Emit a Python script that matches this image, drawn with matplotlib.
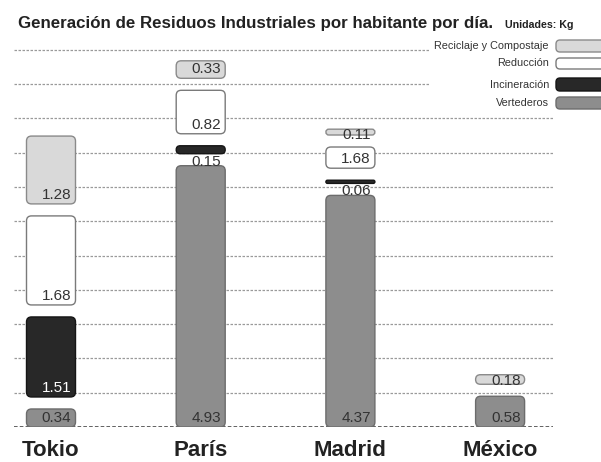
import matplotlib
matplotlib.use("Agg")
import matplotlib.pyplot as plt
from matplotlib.patches import FancyBboxPatch

plt.rcParams['font.family'] = ['Liberation Sans', 'DejaVu Sans']

# ---------------- data ----------------
cities = ["Tokio", "París", "Madrid", "México"]
series_names = ["Reciclaje y Compostaje", "Reducción", "Incineración", "Vertederos"]
# values (kg per inhabitant per day); None = no segment
vertederos = [0.34, 4.93, 4.37, 0.58]
incineracion = [1.51, 0.15, 0.06, None]
reduccion = [1.68, 0.82, 0.40, None]    # Madrid segment drawn short in the source
reciclaje = [1.28, 0.33, 0.11, 0.18]
# printed labels (as written on the chart)
lab_vertederos = ["0.34", "4.93", "4.37", "0.58"]
lab_incineracion = ["1.51", "0.15", "0.06", None]
lab_reduccion = ["1.68", "0.82", "1.68", None]
lab_reciclaje = ["1.28", "0.33", "0.11", "0.18"]
title = "Generación de Residuos Industriales por habitante por día."
units = "Unidades: Kg"

# ---------------- styles ----------------
W, H = 601, 462
PX_X = 149.7   # px per category
PX_Y = 53.0    # px per kg
X0_PX = 51     # px position of first category
AX_L, AX_R, AX_B, AX_T = 14, 555, 427, 40
fill = {"Vertederos": "#8d8d8d", "Incineración": "#282828",
        "Reducción": "#ffffff", "Reciclaje y Compostaje": "#d9d9d9"}
edge = {"Vertederos": "#6c6c6c", "Incineración": "#151515",
        "Reducción": "#7a7a7a", "Reciclaje y Compostaje": "#8a8a8a"}
txtc = {"Vertederos": "#333333", "Incineración": "#ffffff",
        "Reducción": "#333333", "Reciclaje y Compostaje": "#333333"}

fig = plt.figure(figsize=(W / 100, H / 100), dpi=100)
fig.patch.set_facecolor("white")
ax = fig.add_axes([AX_L / W, (H - AX_B) / H, (AX_R - AX_L) / W, (AX_B - AX_T) / H])
ax.set_xlim((AX_L - X0_PX) / PX_X, (AX_R - X0_PX) / PX_X)
ax.set_ylim(0, (AX_B - AX_T) / PX_Y)
ax.axis("off")

def dx(px):
    return px / PX_X

def dy(px):
    return px / PX_Y

# grid lines
grid_step = dy(34.3)
for k in range(12):
    y = k * grid_step
    xr = 430 if k >= 10 else 553
    ax.hlines(y, (AX_L - X0_PX) / PX_X, (xr - X0_PX) / PX_X,
              colors="#555555" if k == 0 else "#9a9a9a",
              linestyles=(0, (2.0, 1.2)), lw=1.3 if k == 0 else 0.9, zorder=1)

bar_w = dx(49)
gap = dy(12)
order = [("Vertederos", vertederos, lab_vertederos),
         ("Incineración", incineracion, lab_incineracion),
         ("Reducción", reduccion, lab_reduccion),
         ("Reciclaje y Compostaje", reciclaje, lab_reciclaje)]

for i, city in enumerate(cities):
    bottom = 0.0
    first = True
    for name, vals, labs in order:
        v = vals[i]
        if v is None:
            continue
        if not first:
            bottom += gap
        first = False
        h_px = v * PX_Y
        r_px = min(5.0, h_px / 2.0)
        left = i - bar_w / 2
        patch = FancyBboxPatch((left, bottom), bar_w, v,
                               boxstyle=f"round,pad=0,rounding_size={dx(r_px)}",
                               mutation_aspect=PX_X / PX_Y,
                               facecolor=fill[name], edgecolor=edge[name],
                               lw=1.0, zorder=3)
        ax.add_patch(patch)
        xt = i + bar_w / 2 - dx(4)
        if h_px >= 15:
            ax.text(xt, bottom + dy(5), labs[i], ha="right", va="baseline",
                    fontsize=11, color=txtc[name], zorder=4)
        elif name == "Incineración":
            ax.text(xt, bottom - dy(1), labs[i], ha="right", va="top",
                    fontsize=11, color="#333333", zorder=4)
        else:
            ax.text(xt, bottom + v + dy(1), labs[i], ha="right", va="top",
                    fontsize=11, color="#333333", zorder=4)
        bottom += v
    ax.text(i, -dy(23), city, ha="center", va="center", fontsize=16,
            fontweight="bold", color="#222222", clip_on=False)

# overlay in pixel coordinates for title and legend
ov = fig.add_axes([0, 0, 1, 1], facecolor="none")
ov.set_xlim(0, W)
ov.set_ylim(H, 0)
ov.axis("off")
ov.text(18, 28, title, fontsize=12.2, fontweight="bold", color="#222222",
        ha="left", va="baseline")
ov.text(505, 28, units, fontsize=7.7, fontweight="bold", color="#222222",
        ha="left", va="baseline")

leg_y = [(40, 52), (58, 69), (78, 91), (97, 109)]
for name, (y0, y1) in zip(series_names, leg_y):
    ov.text(549, (y0 + y1) / 2, name, fontsize=7.8, color="#333333",
            ha="right", va="center")
    ov.add_patch(FancyBboxPatch((556, y0), 60, y1 - y0,
                                boxstyle="round,pad=0,rounding_size=4",
                                facecolor=fill[name], edgecolor=edge[name],
                                lw=1.0, clip_on=True))

fig.savefig("out.png", dpi=100, facecolor="white")
